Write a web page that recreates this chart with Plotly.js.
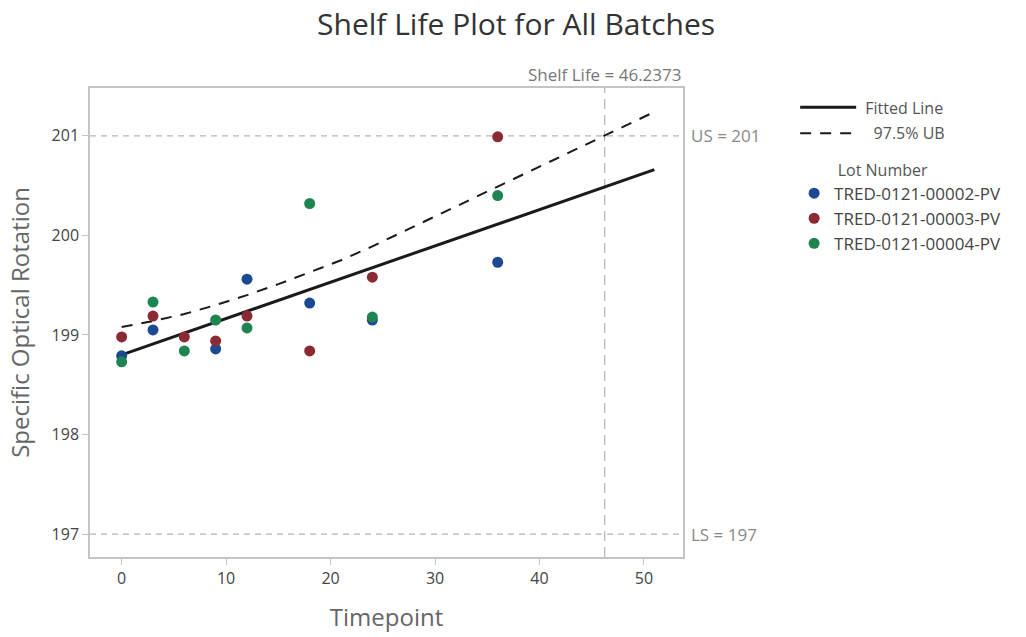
<!DOCTYPE html>
<html>
<head>
<meta charset="utf-8">
<script src="https://cdn.plot.ly/plotly-3.0.1.min.js"></script>
<style>html,body{margin:0;padding:0;background:#fff;}#chart{width:1026px;height:637px;}</style>
</head>
<body>
<div id="chart"></div>
<script>
// Lot data (timepoint, specific optical rotation)
const lotNames = ["TRED-0121-00002-PV", "TRED-0121-00003-PV", "TRED-0121-00004-PV"];
const lot2Time = [0, 3, 9, 12, 18, 24, 36];
const lot2Value = [198.79, 199.05, 198.86, 199.56, 199.32, 199.15, 199.73];
const lot3Time = [0, 3, 6, 9, 12, 18, 24, 36];
const lot3Value = [198.98, 199.19, 198.98, 198.94, 199.19, 198.84, 199.58, 200.99];
const lot4Time = [0, 3, 6, 9, 12, 18, 24, 36];
const lot4Value = [198.73, 199.33, 198.84, 199.15, 199.07, 200.32, 199.18, 200.40];

// Fitted line and 97.5% upper bound
const fitTime = [0, 51];
const fitValue = [198.80, 200.66];
const ubTime = [0, 3, 6, 9, 12, 15, 18, 21, 24, 27, 30, 33, 36, 39, 42, 45, 48, 51];
const ubValue = [199.08, 199.14, 199.21, 199.30, 199.40, 199.51, 199.63, 199.75, 199.89, 200.04, 200.19, 200.34, 200.49, 200.64, 200.79, 200.94, 201.09, 201.24];

// Specification limits and shelf life
const upperSpec = 201;
const lowerSpec = 197;
const shelfLife = 46.2373;

const xTicks = [0, 10, 20, 30, 40, 50];
const yTicks = [197, 198, 199, 200, 201];

const FONT = "Open Sans, Noto Sans, sans-serif";
const colors = ["#1b4a93", "#8c2a34", "#1f8550"];
const NB = "\u00a0";

const traces = [
  {x: fitTime, y: fitValue, mode: "lines", name: NB + "Fitted Line",
   line: {color: "#1a1a1a", width: 3}, legend: "legend", legendgroup: "a"},
  {x: ubTime, y: ubValue, mode: "lines", name: NB + NB + NB + "97.5% UB",
   line: {color: "#1a1a1a", width: 2, dash: "11px,9px"}, legend: "legend", legendgroup: "b"},
  {x: lot2Time, y: lot2Value, mode: "markers", name: lotNames[0],
   marker: {color: colors[0], size: 11}, legend: "legend2", legendgroup: "c"},
  {x: lot3Time, y: lot3Value, mode: "markers", name: lotNames[1],
   marker: {color: colors[1], size: 11}, legend: "legend2", legendgroup: "d"},
  {x: lot4Time, y: lot4Value, mode: "markers", name: lotNames[2],
   marker: {color: colors[2], size: 11}, legend: "legend2", legendgroup: "e"}
];

const refLine = {color: "#b5b5b5", width: 1.2, dash: "6px,5px"};

const layout = {
  width: 1026, height: 637,
  margin: {l: 90, r: 343, t: 88, b: 80},
  paper_bgcolor: "#ffffff", plot_bgcolor: "#ffffff",
  font: {family: FONT, color: "#444", size: 15},
  title: {text: "Shelf Life Plot for All Batches", x: 0.503, xanchor: "center", y: 0.962, yanchor: "middle",
          font: {family: FONT, size: 30, color: "#333"}},
  xaxis: {range: [-3.03, 53.74], tickvals: xTicks, ticktext: xTicks.map(String),
          showgrid: false, zeroline: false, showline: true, mirror: true, linecolor: "#c4c4c4", linewidth: 1.5,
          ticks: "outside", ticklen: 6, tickcolor: "#c4c4c4", tickfont: {size: 16, color: "#444"},
          title: {text: "Timepoint", font: {size: 24, color: "#666"}, standoff: 21}},
  yaxis: {range: [196.77, 201.48], tickvals: yTicks, ticktext: yTicks.map(String),
          showgrid: false, zeroline: false, showline: true, mirror: true, linecolor: "#c4c4c4", linewidth: 1.5,
          ticks: "outside", ticklen: 6, tickcolor: "#c4c4c4", tickfont: {size: 16, color: "#444"},
          title: {text: "Specific Optical Rotation", font: {size: 24, color: "#666"}, standoff: 15}},
  shapes: [
    {type: "line", xref: "paper", x0: 0, x1: 1, yref: "y", y0: upperSpec, y1: upperSpec, line: refLine, layer: "below"},
    {type: "line", xref: "paper", x0: 0, x1: 1, yref: "y", y0: lowerSpec, y1: lowerSpec, line: refLine, layer: "below"},
    {type: "line", xref: "x", x0: shelfLife, x1: shelfLife, yref: "paper", y0: 0, y1: 1,
     line: {color: "#b5b5b5", width: 1.2, dash: "10px,6px"}, layer: "below"}
  ],
  annotations: [
    {text: "Shelf Life = " + shelfLife, xref: "x", x: shelfLife, xanchor: "center", yref: "paper", y: 1, yanchor: "bottom",
     yshift: 0, showarrow: false, font: {size: 17, color: "#777"}},
    {text: "US = " + upperSpec, xref: "paper", x: 1, xanchor: "left", xshift: 6, yref: "y", y: upperSpec, yanchor: "middle",
     showarrow: false, font: {size: 17, color: "#888"}},
    {text: "LS = " + lowerSpec, xref: "paper", x: 1, xanchor: "left", xshift: 6, yref: "y", y: lowerSpec, yanchor: "middle",
     showarrow: false, font: {size: 17, color: "#888"}}
  ],
  legend: {xref: "container", yref: "container", x: 0.775, y: 0.858, xanchor: "left", yanchor: "top",
           itemwidth: 56, traceorder: "grouped", tracegroupgap: 2, font: {size: 16, color: "#555"}, bgcolor: "rgba(0,0,0,0)"},
  legend2: {xref: "container", yref: "container", x: 0.774, y: 0.757, xanchor: "left", yanchor: "top",
            traceorder: "grouped", tracegroupgap: 0,
            title: {text: NB.repeat(10) + "Lot Number", font: {size: 16, color: "#555"}},
            font: {size: 17, color: "#444"}, bgcolor: "rgba(0,0,0,0)"}
};

Plotly.newPlot("chart", traces, layout, {displayModeBar: false, responsive: false});
</script>
</body>
</html>
